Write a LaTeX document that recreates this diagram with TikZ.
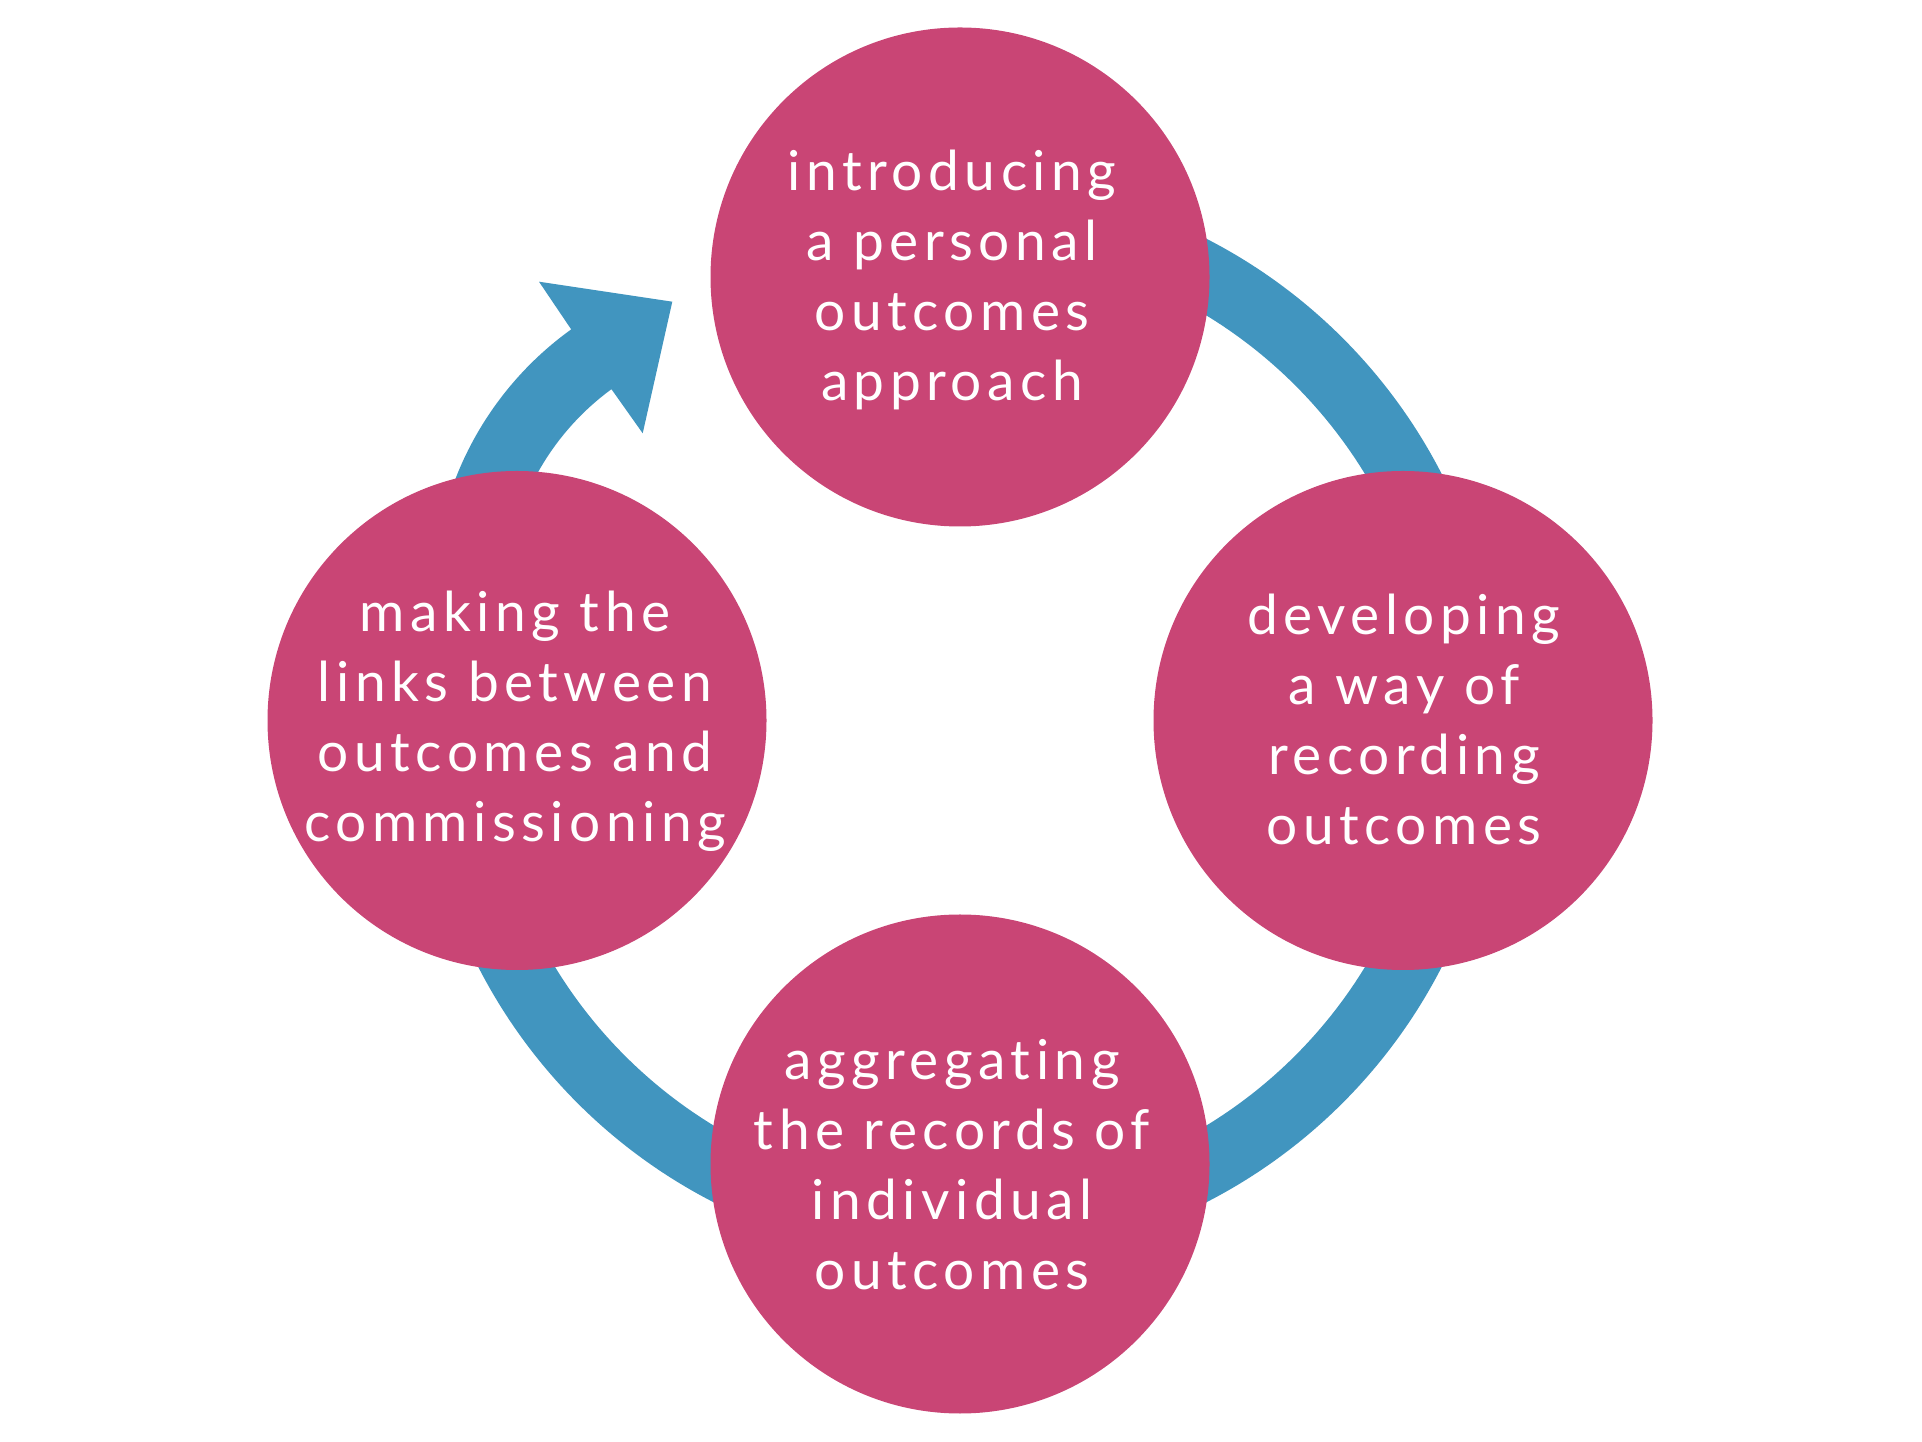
\documentclass[tikz,border=0pt]{standalone}
\usepackage{fontspec}
\setmainfont{Lato}[LetterSpace=10,Ligatures={NoCommon}]
\definecolor{bubpink}{RGB}{201,69,117}
\definecolor{ringblue}{RGB}{65,149,191}
\tikzset{
  bub/.style={circle, fill=bubpink, minimum size=249.5pt, inner sep=0pt},
  txt/.style={text=white, align=center, inner sep=0pt, anchor=base,
    font=\fontsize{27.5pt}{35pt}\selectfont},
  ring/.style={draw=ringblue, line width=33.5pt}
}
\begin{document}
\begin{tikzpicture}[x=0.5pt,y=0.5pt]
\useasboundingbox (0,0) rectangle (1922,1441);
\coordinate (c) at (960,720.5);
% ring segments
\draw[ring] (960,1228) arc[start angle=90,end angle=-180,radius=507.5];
% left segment with arrow head
\fill[ringblue] (571.2,1111.6) arc[start angle=125.7,end angle=170,radius=332]
  -- (508.95,887.15) arc[start angle=170,end angle=126.2,radius=260]
  -- (642.7,1007.7) -- (672.3,1139.3) -- (539,1159.3) -- cycle;
% circles
\node[bub] (top) at (960,1164) {};
\node[bub] (right) at (1403,720.5) {};
\node[bub] (bottom) at (960,277) {};
\node[bub] (left) at (517,720.5) {};
% texts (base anchor = baseline of last line)
\node[txt] (ttop) at (952,1040) {introducing\\a personal\\outcomes\\approach};
\node[txt] (tright) at (1404,596) {developing\\a way of\\recording\\outcomes};
\node[txt] (tbottom) at (952,152) {aggregating\\the records of\\individual\\outcomes};
\node[txt] (tleft) at (515,599.5) {making the\\links between\\outcomes and\\commissioning};
\end{tikzpicture}
\end{document}
